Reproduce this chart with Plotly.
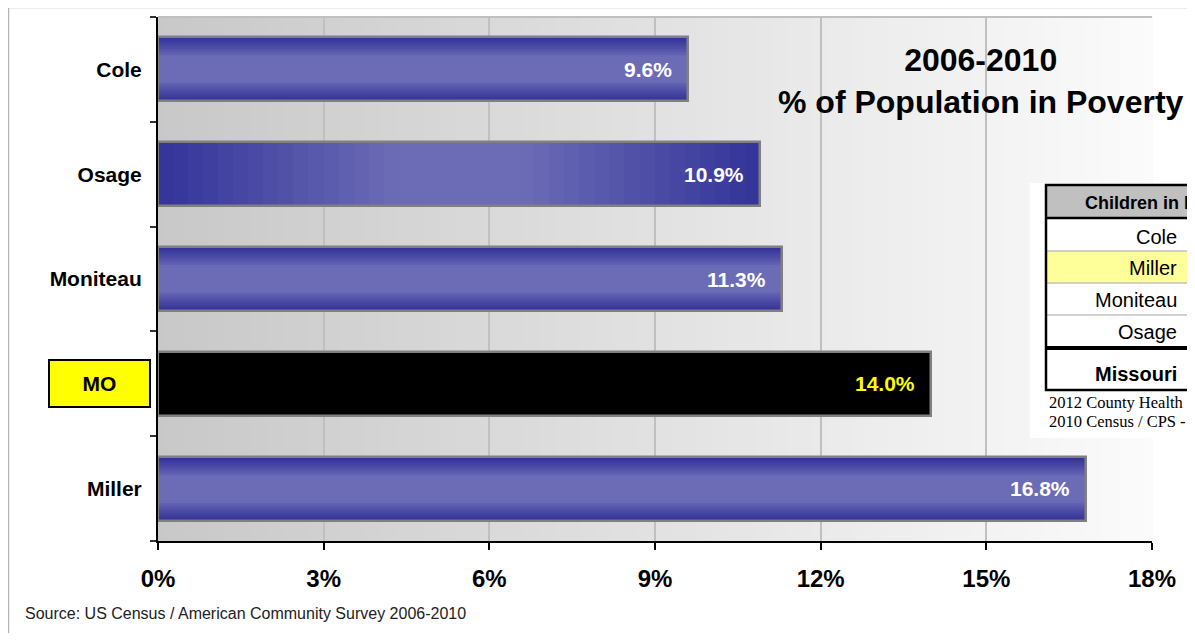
import plotly.graph_objects as go

# ---------------- data ----------------
categories = ["Cole", "Osage", "Moniteau", "MO", "Miller"]
poverty_pct = [9.6, 10.9, 11.3, 14.0, 16.8]
value_labels = ["9.6%", "10.9%", "11.3%", "14.0%", "16.8%"]
x_ticks = [0, 3, 6, 9, 12, 15, 18]
x_tick_labels = ["0%", "3%", "6%", "9%", "12%", "15%", "18%"]
table_rows = ["Cole", "Miller", "Moniteau", "Osage"]
table_total = "Missouri"
table_header = "Children in Poverty"
table_notes = ["2012 County Health Rankings", "2010 Census / CPS - SAIPE"]
title_lines = ["2006-2010", "% of Population in Poverty"]
source_note = "Source: US Census / American Community Survey 2006-2010"

# ---------------- geometry helpers ----------------
# the page body has an 8px margin on every side
OFF = 8
W, H = 1195 - OFF, 641 - 2 * OFF
L, R, T, B = 158, 1152, 17, 541          # plot area in window pixels
def px(x):
    return (x - L) / (R - L)
def py(y):
    return (B - y) / (B - T)

DARK = (51, 51, 153)
LIGHT = (108, 108, 182)
def mix(a, b, s):
    return "rgb(%d,%d,%d)" % tuple(round(a[i] + (b[i] - a[i]) * s) for i in range(3))

BAR_W = 0.61
SANS = "Liberation Sans, Arial, sans-serif"

fig = go.Figure()

vals = dict(zip(categories, poverty_pct))
vert_cats = [c for c in categories if c not in ("Osage", "MO")]

# vertical-gradient bars (dark edges, lighter middle)
N = 16
for k in range(N):
    t = 1 - k / N
    s = max(0.0, (t - 0.42) / 0.58) ** 0.85
    fig.add_trace(go.Bar(
        y=vert_cats, x=[vals[c] for c in vert_cats], orientation="h",
        width=BAR_W * t, marker=dict(color=mix(LIGHT, DARK, s), line=dict(width=0)),
        hoverinfo="skip", showlegend=False))

# Osage: horizontal gradient (dark ends, lighter middle)
M = 40
v = vals["Osage"]
for i in range(M):
    f = (i + 0.5) / M
    d = abs(f - 0.5) * 2
    s = max(0.0, (d - 0.2) / 0.8)
    fig.add_trace(go.Bar(
        y=["Osage"], x=[v / M * 1.08], base=[v * i / M], orientation="h",
        width=BAR_W, marker=dict(color=mix(LIGHT, DARK, s), line=dict(width=0)),
        hoverinfo="skip", showlegend=False))

# MO: black bar
fig.add_trace(go.Bar(y=["MO"], x=[vals["MO"]], orientation="h", width=BAR_W,
                     marker=dict(color="black", line=dict(width=0)),
                     hoverinfo="skip", showlegend=False))

# outline for all bars
fig.add_trace(go.Bar(y=categories, x=poverty_pct, orientation="h", width=BAR_W,
                     marker=dict(color="rgba(0,0,0,0)", line=dict(color="#808080", width=2.5)),
                     showlegend=False))

# value labels
for c, val, lab in zip(categories, poverty_pct, value_labels):
    fig.add_annotation(x=val, y=c, xref="x", yref="y", text="<b>%s</b>" % lab,
                       showarrow=False, xanchor="right", xshift=-14,
                       font=dict(family=SANS, size=21,
                                 color="#ffff00" if c == "MO" else "white"))

shapes = []
# background gradient of plot area
S = 120
for i in range(S):
    f0, f1 = i / S, (i + 1) / S
    g = round(200 + 51 * ((f0 + f1) / 2))
    shapes.append(dict(type="rect", xref="paper", yref="paper", x0=f0, x1=f1 + 0.001,
                       y0=0, y1=1, fillcolor="rgb(%d,%d,%d)" % (g, g, g),
                       line=dict(width=0), layer="below"))
# plot area top border
shapes.append(dict(type="line", xref="paper", yref="paper", x0=0, x1=1, y0=1, y1=1,
                   line=dict(color="#c0c0c0", width=2)))
# outer frame
shapes.append(dict(type="line", xref="paper", yref="paper", x0=px(8), x1=px(1300),
                   y0=py(7.5), y1=py(7.5), line=dict(color="#b4b4b4", width=1.5)))
shapes.append(dict(type="line", xref="paper", yref="paper", x0=px(8.5), x1=px(8.5),
                   y0=py(7), y1=py(700), line=dict(color="#b4b4b4", width=1.5)))
# inset table
shapes.append(dict(type="rect", xref="paper", yref="paper", x0=px(1030), x1=px(1260),
                   y0=py(438), y1=py(183), fillcolor="white", line=dict(width=0)))
shapes.append(dict(type="rect", xref="paper", yref="paper", x0=px(1046), x1=px(1260),
                   y0=py(218), y1=py(185), fillcolor="#c0c0c0", line=dict(width=0)))
shapes.append(dict(type="rect", xref="paper", yref="paper", x0=px(1046), x1=px(1260),
                   y0=py(283), y1=py(251), fillcolor="#ffff99", line=dict(width=0)))
for yy in (251, 283, 315):
    shapes.append(dict(type="line", xref="paper", yref="paper", x0=px(1046), x1=px(1260),
                       y0=py(yy), y1=py(yy), line=dict(color="#c0c0c0", width=1.5)))
shapes.append(dict(type="line", xref="paper", yref="paper", x0=px(1046), x1=px(1260),
                   y0=py(218), y1=py(218), line=dict(color="black", width=2.5)))
shapes.append(dict(type="line", xref="paper", yref="paper", x0=px(1046), x1=px(1260),
                   y0=py(348), y1=py(348), line=dict(color="black", width=4)))
shapes.append(dict(type="rect", xref="paper", yref="paper", x0=px(1046), x1=px(1260),
                   y0=py(390), y1=py(185), line=dict(color="black", width=2.5)))
fig.update_layout(shapes=shapes)

# table text
fig.add_annotation(xref="paper", yref="paper", x=px(1083), y=py(203), text="<b>%s</b>" % table_header,
                   showarrow=False, xanchor="left", yanchor="middle",
                   font=dict(family=SANS, size=18, color="black"))
for lab, yy in zip(table_rows, (237, 268, 300, 332)):
    fig.add_annotation(xref="paper", yref="paper", x=px(1179), y=py(yy), text=lab,
                       showarrow=False, xanchor="right", yanchor="middle",
                       font=dict(family=SANS, size=20, color="black"))
fig.add_annotation(xref="paper", yref="paper", x=px(1179), y=py(374), text="<b>%s</b>" % table_total,
                   showarrow=False, xanchor="right", yanchor="middle",
                   font=dict(family=SANS, size=20, color="black"))
for note, yy in zip(table_notes, (402, 421)):
    fig.add_annotation(xref="paper", yref="paper", x=px(1047), y=py(yy), text=note,
                       showarrow=False, xanchor="left", yanchor="middle",
                       font=dict(family="Liberation Serif, serif", size=16.5, color="black"))

# title
fig.add_annotation(xref="paper", yref="paper", x=px(981), y=py(81),
                   text="<b>%s<br>%s</b>" % tuple(title_lines), showarrow=False,
                   xanchor="center", yanchor="middle",
                   font=dict(family=SANS, size=32, color="black"))

# MO label box
fig.add_annotation(xref="paper", yref="y", x=px(99), y="MO", text="<b>MO</b>",
                   showarrow=False, xanchor="center", yanchor="middle",
                   width=97, height=43, bgcolor="#ffff00", bordercolor="black", borderwidth=2,
                   font=dict(family=SANS, size=21, color="black"))

# source
fig.add_annotation(xref="paper", yref="paper", x=px(23), y=py(613), text=source_note,
                   showarrow=False, xanchor="left", yanchor="middle",
                   font=dict(family=SANS, size=16, color="#222222"))

fig.update_layout(
    width=W, height=H,
    margin=dict(l=L - OFF, r=W - (R - OFF), t=T - OFF, b=H - (B - OFF)),
    paper_bgcolor="white", plot_bgcolor="rgba(0,0,0,0)",
    barmode="overlay", bargap=0,
    showlegend=False,
    xaxis=dict(range=[0, 18], tickvals=x_ticks, ticktext=["<b>%s</b>" % t for t in x_tick_labels],
               showgrid=True, gridcolor="#c0c0c0", gridwidth=1.5, zeroline=False,
               showline=True, linecolor="black", linewidth=2,
               ticks="outside", ticklen=7, tickcolor="black", tickwidth=1.5,
               ticklabelstandoff=8,
               tickfont=dict(family=SANS, size=24, color="black"), fixedrange=True),
    yaxis=dict(type="category", categoryorder="array", categoryarray=categories,
               autorange="reversed", tickson="boundaries",
               tickvals=categories,
               ticktext=["" if c == "MO" else "<b>%s</b>" % c for c in categories],
               showgrid=False, zeroline=False,
               showline=True, linecolor="black", linewidth=2,
               ticks="outside", ticklen=6, tickcolor="#333333", tickwidth=1.5,
               ticklabelstandoff=10,
               tickfont=dict(family=SANS, size=21, color="black"), fixedrange=True),
)

fig.write_html("out.html")
